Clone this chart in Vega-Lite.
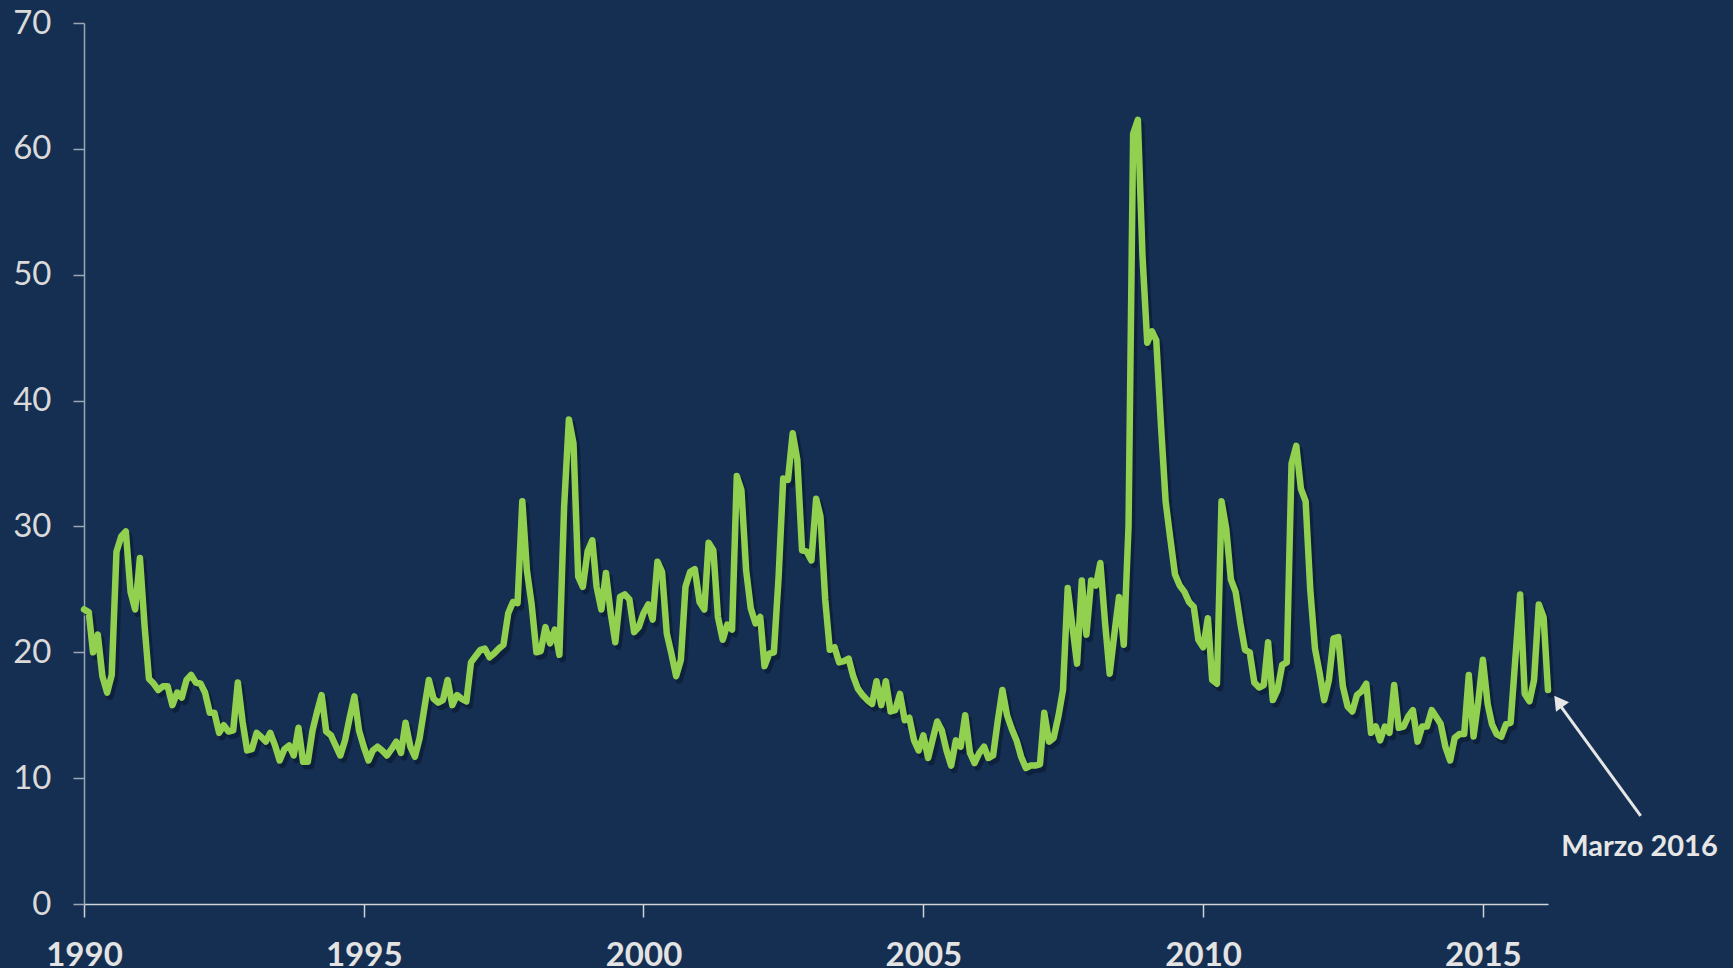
{
  "$schema": "https://vega.github.io/schema/vega-lite/v6.json",
  "autosize": "none",
  "width": 1464,
  "height": 881,
  "padding": {"left": 84, "top": 23, "right": 185, "bottom": 64},
  "background": "#152f52",
  "config": {
    "view": {"stroke": null},
    "font": "Lato"
  },
  "data": {"name": "vix", "format": {"parse": {"d": "utc:'%Y-%m'"}}},
  "datasets": {
    "vix": [
      {"d":"1990-01","v":23.4},{"d":"1990-02","v":23.2},{"d":"1990-03","v":20.0},{"d":"1990-04","v":21.4},{"d":"1990-05","v":18.1},{"d":"1990-06","v":16.8},{"d":"1990-07","v":18.2},{"d":"1990-08","v":28.0},{"d":"1990-09","v":29.2},{"d":"1990-10","v":29.6},{"d":"1990-11","v":24.8},{"d":"1990-12","v":23.4},
      {"d":"1991-01","v":27.5},{"d":"1991-02","v":22.0},{"d":"1991-03","v":17.9},{"d":"1991-04","v":17.5},{"d":"1991-05","v":17.0},{"d":"1991-06","v":17.3},{"d":"1991-07","v":17.3},{"d":"1991-08","v":15.8},{"d":"1991-09","v":16.8},{"d":"1991-10","v":16.4},{"d":"1991-11","v":17.8},{"d":"1991-12","v":18.2},
      {"d":"1992-01","v":17.6},{"d":"1992-02","v":17.5},{"d":"1992-03","v":16.8},{"d":"1992-04","v":15.2},{"d":"1992-05","v":15.2},{"d":"1992-06","v":13.6},{"d":"1992-07","v":14.2},{"d":"1992-08","v":13.7},{"d":"1992-09","v":13.8},{"d":"1992-10","v":17.6},{"d":"1992-11","v":14.5},{"d":"1992-12","v":12.2},
      {"d":"1993-01","v":12.3},{"d":"1993-02","v":13.6},{"d":"1993-03","v":13.3},{"d":"1993-04","v":12.9},{"d":"1993-05","v":13.6},{"d":"1993-06","v":12.6},{"d":"1993-07","v":11.4},{"d":"1993-08","v":12.3},{"d":"1993-09","v":12.6},{"d":"1993-10","v":11.8},{"d":"1993-11","v":14.0},{"d":"1993-12","v":11.3},
      {"d":"1994-01","v":11.3},{"d":"1994-02","v":13.8},{"d":"1994-03","v":15.2},{"d":"1994-04","v":16.6},{"d":"1994-05","v":13.7},{"d":"1994-06","v":13.4},{"d":"1994-07","v":12.6},{"d":"1994-08","v":11.8},{"d":"1994-09","v":13.0},{"d":"1994-10","v":14.8},{"d":"1994-11","v":16.5},{"d":"1994-12","v":13.8},
      {"d":"1995-01","v":12.5},{"d":"1995-02","v":11.4},{"d":"1995-03","v":12.2},{"d":"1995-04","v":12.5},{"d":"1995-05","v":12.2},{"d":"1995-06","v":11.8},{"d":"1995-07","v":12.3},{"d":"1995-08","v":12.9},{"d":"1995-09","v":12.0},{"d":"1995-10","v":14.4},{"d":"1995-11","v":12.5},{"d":"1995-12","v":11.7},
      {"d":"1996-01","v":13.2},{"d":"1996-02","v":15.6},{"d":"1996-03","v":17.8},{"d":"1996-04","v":16.3},{"d":"1996-05","v":16.0},{"d":"1996-06","v":16.2},{"d":"1996-07","v":17.8},{"d":"1996-08","v":15.8},{"d":"1996-09","v":16.6},{"d":"1996-10","v":16.3},{"d":"1996-11","v":16.1},{"d":"1996-12","v":19.2},
      {"d":"1997-01","v":19.7},{"d":"1997-02","v":20.2},{"d":"1997-03","v":20.3},{"d":"1997-04","v":19.6},{"d":"1997-05","v":19.9},{"d":"1997-06","v":20.3},{"d":"1997-07","v":20.6},{"d":"1997-08","v":23.1},{"d":"1997-09","v":24.0},{"d":"1997-10","v":23.9},{"d":"1997-11","v":32.0},{"d":"1997-12","v":26.5},
      {"d":"1998-01","v":23.8},{"d":"1998-02","v":20.0},{"d":"1998-03","v":20.1},{"d":"1998-04","v":22.0},{"d":"1998-05","v":20.7},{"d":"1998-06","v":21.8},{"d":"1998-07","v":19.8},{"d":"1998-08","v":31.6},{"d":"1998-09","v":38.5},{"d":"1998-10","v":36.6},{"d":"1998-11","v":26.0},{"d":"1998-12","v":25.2},
      {"d":"1999-01","v":28.0},{"d":"1999-02","v":28.9},{"d":"1999-03","v":25.2},{"d":"1999-04","v":23.4},{"d":"1999-05","v":26.3},{"d":"1999-06","v":23.1},{"d":"1999-07","v":20.8},{"d":"1999-08","v":24.4},{"d":"1999-09","v":24.6},{"d":"1999-10","v":24.2},{"d":"1999-11","v":21.6},{"d":"1999-12","v":22.0},
      {"d":"2000-01","v":23.1},{"d":"2000-02","v":23.8},{"d":"2000-03","v":22.6},{"d":"2000-04","v":27.2},{"d":"2000-05","v":26.4},{"d":"2000-06","v":21.5},{"d":"2000-07","v":19.9},{"d":"2000-08","v":18.1},{"d":"2000-09","v":19.4},{"d":"2000-10","v":25.2},{"d":"2000-11","v":26.4},{"d":"2000-12","v":26.6},
      {"d":"2001-01","v":24.0},{"d":"2001-02","v":23.4},{"d":"2001-03","v":28.7},{"d":"2001-04","v":28.1},{"d":"2001-05","v":22.8},{"d":"2001-06","v":21.0},{"d":"2001-07","v":22.2},{"d":"2001-08","v":21.8},{"d":"2001-09","v":34.0},{"d":"2001-10","v":32.9},{"d":"2001-11","v":26.5},{"d":"2001-12","v":23.5},
      {"d":"2002-01","v":22.3},{"d":"2002-02","v":22.8},{"d":"2002-03","v":18.9},{"d":"2002-04","v":19.9},{"d":"2002-05","v":20.0},{"d":"2002-06","v":26.0},{"d":"2002-07","v":33.8},{"d":"2002-08","v":33.7},{"d":"2002-09","v":37.4},{"d":"2002-10","v":35.3},{"d":"2002-11","v":28.1},{"d":"2002-12","v":28.0},
      {"d":"2003-01","v":27.3},{"d":"2003-02","v":32.2},{"d":"2003-03","v":30.8},{"d":"2003-04","v":24.2},{"d":"2003-05","v":20.2},{"d":"2003-06","v":20.4},{"d":"2003-07","v":19.2},{"d":"2003-08","v":19.3},{"d":"2003-09","v":19.5},{"d":"2003-10","v":18.1},{"d":"2003-11","v":17.1},{"d":"2003-12","v":16.6},
      {"d":"2004-01","v":16.2},{"d":"2004-02","v":15.9},{"d":"2004-03","v":17.7},{"d":"2004-04","v":15.8},{"d":"2004-05","v":17.7},{"d":"2004-06","v":15.3},{"d":"2004-07","v":15.4},{"d":"2004-08","v":16.7},{"d":"2004-09","v":14.6},{"d":"2004-10","v":14.8},{"d":"2004-11","v":13.0},{"d":"2004-12","v":12.2},
      {"d":"2005-01","v":13.4},{"d":"2005-02","v":11.6},{"d":"2005-03","v":13.0},{"d":"2005-04","v":14.5},{"d":"2005-05","v":13.8},{"d":"2005-06","v":12.2},{"d":"2005-07","v":11.0},{"d":"2005-08","v":13.0},{"d":"2005-09","v":12.5},{"d":"2005-10","v":15.0},{"d":"2005-11","v":12.0},{"d":"2005-12","v":11.2},
      {"d":"2006-01","v":12.0},{"d":"2006-02","v":12.5},{"d":"2006-03","v":11.6},{"d":"2006-04","v":11.8},{"d":"2006-05","v":14.5},{"d":"2006-06","v":17.0},{"d":"2006-07","v":15.0},{"d":"2006-08","v":13.9},{"d":"2006-09","v":13.0},{"d":"2006-10","v":11.7},{"d":"2006-11","v":10.8},{"d":"2006-12","v":11.0},
      {"d":"2007-01","v":11.0},{"d":"2007-02","v":11.1},{"d":"2007-03","v":15.2},{"d":"2007-04","v":12.9},{"d":"2007-05","v":13.2},{"d":"2007-06","v":14.9},{"d":"2007-07","v":17.0},{"d":"2007-08","v":25.1},{"d":"2007-09","v":22.0},{"d":"2007-10","v":19.1},{"d":"2007-11","v":25.7},{"d":"2007-12","v":21.4},
      {"d":"2008-01","v":25.7},{"d":"2008-02","v":25.3},{"d":"2008-03","v":27.1},{"d":"2008-04","v":22.3},{"d":"2008-05","v":18.3},{"d":"2008-06","v":21.5},{"d":"2008-07","v":24.4},{"d":"2008-08","v":20.6},{"d":"2008-09","v":30.0},{"d":"2008-10","v":61.2},{"d":"2008-11","v":62.3},{"d":"2008-12","v":51.5},
      {"d":"2009-01","v":44.6},{"d":"2009-02","v":45.5},{"d":"2009-03","v":44.8},{"d":"2009-04","v":38.0},{"d":"2009-05","v":32.0},{"d":"2009-06","v":29.0},{"d":"2009-07","v":26.2},{"d":"2009-08","v":25.3},{"d":"2009-09","v":24.8},{"d":"2009-10","v":24.0},{"d":"2009-11","v":23.6},{"d":"2009-12","v":21.0},
      {"d":"2010-01","v":20.4},{"d":"2010-02","v":22.7},{"d":"2010-03","v":17.8},{"d":"2010-04","v":17.5},{"d":"2010-05","v":32.0},{"d":"2010-06","v":29.8},{"d":"2010-07","v":25.8},{"d":"2010-08","v":24.8},{"d":"2010-09","v":22.3},{"d":"2010-10","v":20.2},{"d":"2010-11","v":20.0},{"d":"2010-12","v":17.6},
      {"d":"2011-01","v":17.2},{"d":"2011-02","v":17.4},{"d":"2011-03","v":20.8},{"d":"2011-04","v":16.2},{"d":"2011-05","v":17.0},{"d":"2011-06","v":19.0},{"d":"2011-07","v":19.2},{"d":"2011-08","v":35.0},{"d":"2011-09","v":36.4},{"d":"2011-10","v":33.0},{"d":"2011-11","v":32.0},{"d":"2011-12","v":25.0},
      {"d":"2012-01","v":20.3},{"d":"2012-02","v":18.3},{"d":"2012-03","v":16.2},{"d":"2012-04","v":17.8},{"d":"2012-05","v":21.1},{"d":"2012-06","v":21.2},{"d":"2012-07","v":17.3},{"d":"2012-08","v":15.7},{"d":"2012-09","v":15.3},{"d":"2012-10","v":16.6},{"d":"2012-11","v":16.9},{"d":"2012-12","v":17.5},
      {"d":"2013-01","v":13.6},{"d":"2013-02","v":14.1},{"d":"2013-03","v":13.0},{"d":"2013-04","v":14.1},{"d":"2013-05","v":13.6},{"d":"2013-06","v":17.4},{"d":"2013-07","v":14.0},{"d":"2013-08","v":14.1},{"d":"2013-09","v":14.9},{"d":"2013-10","v":15.4},{"d":"2013-11","v":12.9},{"d":"2013-12","v":14.1},
      {"d":"2014-01","v":14.1},{"d":"2014-02","v":15.4},{"d":"2014-03","v":14.9},{"d":"2014-04","v":14.3},{"d":"2014-05","v":12.5},{"d":"2014-06","v":11.4},{"d":"2014-07","v":13.2},{"d":"2014-08","v":13.5},{"d":"2014-09","v":13.5},{"d":"2014-10","v":18.2},{"d":"2014-11","v":13.3},{"d":"2014-12","v":16.0},
      {"d":"2015-01","v":19.4},{"d":"2015-02","v":15.9},{"d":"2015-03","v":14.3},{"d":"2015-04","v":13.5},{"d":"2015-05","v":13.3},{"d":"2015-06","v":14.3},{"d":"2015-07","v":14.4},{"d":"2015-08","v":19.5},{"d":"2015-09","v":24.6},{"d":"2015-10","v":16.7},{"d":"2015-11","v":16.1},{"d":"2015-12","v":17.8},
      {"d":"2016-01","v":23.8},{"d":"2016-02","v":22.8},{"d":"2016-03","v":17.0}
    ],
    "arrow": [
      {"d": "2017-10-27", "v": 7.0, "d2": "2016-05-12", "v2": 15.9}
    ],
    "head": [
      {"d": "2016-05-08", "v": 16.1}
    ],
    "note": [
      {"d": "2017-10-19", "v": 4.5, "label": "Marzo 2016"}
    ]
  },
  "layer": [
    {
      "mark": {"type": "line", "color": "#08142a", "opacity": 0.55, "strokeWidth": 7, "strokeJoin": "round", "strokeCap": "round", "xOffset": 3, "yOffset": 4},
      "encoding": {
        "x": {
          "field": "d", "type": "temporal",
          "scale": {"type": "utc", "domain": [{"year": 1990, "month": 1, "date": 1, "utc": true}, {"year": 2016, "month": 3, "date": 1, "utc": true}], "nice": false},
          "axis": {
            "title": null,
            "values": [
              {"year": 1990, "month": 1, "date": 1, "utc": true},
              {"year": 1995, "month": 1, "date": 1, "utc": true},
              {"year": 2000, "month": 1, "date": 1, "utc": true},
              {"year": 2005, "month": 1, "date": 1, "utc": true},
              {"year": 2010, "month": 1, "date": 1, "utc": true},
              {"year": 2015, "month": 1, "date": 1, "utc": true}
            ],
            "format": "%Y",
            "formatType": "utc",
            "grid": false,
            "domainColor": "#d0d3d8",
            "domainWidth": 1.5,
            "tickColor": "#d0d3d8",
            "tickWidth": 1.5,
            "tickSize": 13,
            "labelFont": "Lato",
            "labelFontWeight": "bold",
            "labelFontSize": 33,
            "labelColor": "#e3e3e3",
            "labelPadding": 22,
            "labelBaseline": "top",
            "labelFlush": false,
            "labelOverlap": false
          }
        },
        "y": {
          "field": "v", "type": "quantitative",
          "scale": {"domain": [0, 70], "nice": false, "zero": true},
          "axis": {
            "title": null,
            "values": [0, 10, 20, 30, 40, 50, 60, 70],
            "grid": false,
            "domainColor": "#9aa5b5",
            "domainWidth": 1.5,
            "tickColor": "#9aa5b5",
            "tickWidth": 1.5,
            "tickSize": 11,
            "labelFont": "Lato",
            "labelFontSize": 33,
            "labelColor": "#dadada",
            "labelPadding": 22,
            "labelFlush": false,
            "labelOverlap": false
          }
        }
      }
    },
    {
      "mark": {"type": "line", "color": "#92d050", "strokeWidth": 6.5, "strokeJoin": "round", "strokeCap": "round"},
      "encoding": {
        "x": {"field": "d", "type": "temporal"},
        "y": {"field": "v", "type": "quantitative"}
      }
    },
    {
      "data": {"name": "arrow", "format": {"parse": {"d": "utc:'%Y-%m-%d'", "d2": "utc:'%Y-%m-%d'"}}},
      "mark": {"type": "rule", "color": "#e6e6e6", "strokeWidth": 3},
      "encoding": {
        "x": {"field": "d", "type": "temporal"},
        "y": {"field": "v", "type": "quantitative"},
        "x2": {"field": "d2"},
        "y2": {"field": "v2"}
      }
    },
    {
      "data": {"name": "head", "format": {"parse": {"d": "utc:'%Y-%m-%d'"}}},
      "mark": {"type": "point", "shape": "triangle-up", "filled": true, "color": "#e6e6e6", "opacity": 1, "size": 260, "angle": 324},
      "encoding": {
        "x": {"field": "d", "type": "temporal"},
        "y": {"field": "v", "type": "quantitative"}
      }
    },
    {
      "data": {"name": "note", "format": {"parse": {"d": "utc:'%Y-%m-%d'"}}},
      "mark": {"type": "text", "font": "Lato", "fontWeight": "bold", "fontSize": 29, "color": "#e6e6e6", "align": "center", "baseline": "middle"},
      "encoding": {
        "x": {"field": "d", "type": "temporal"},
        "y": {"field": "v", "type": "quantitative"},
        "text": {"field": "label"}
      }
    }
  ]
}
